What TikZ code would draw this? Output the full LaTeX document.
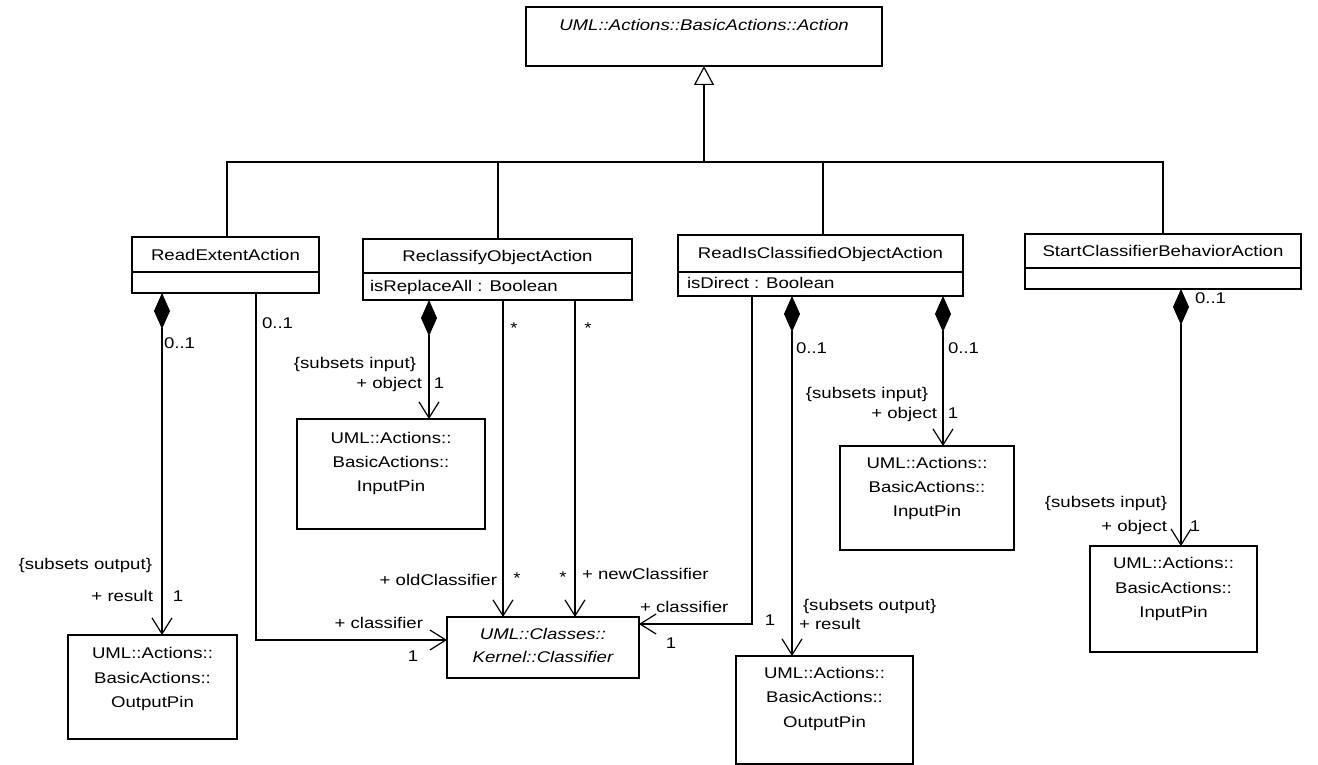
\documentclass[tikz,border=0pt]{standalone}
\usepackage{fontspec}
\setmainfont{Liberation Sans}[FakeStretch=1.2]
\usetikzlibrary{arrows.meta}
\begin{document}
\begin{tikzpicture}[x=1pt,y=-1pt,
  every node/.style={inner sep=0pt,outer sep=0pt,font=\fontsize{15.5}{24}\selectfont},
  box/.style={draw,line width=1.2pt,fill=white,anchor=north west},
  it/.style={font=\fontsize{15.5}{24}\selectfont\itshape},
  ln/.style={line width=1.2pt,line join=miter},
  comp/.style={ln,{Diamond[length=36pt,width=16pt]}-{Straight Barb[length=16pt,width=20pt]}},
  nav/.style={ln,-{Straight Barb[length=16pt,width=20pt]}},
  gen/.style={ln,-{Triangle[open,length=19pt,width=20pt,fill=white]}},
]
\useasboundingbox[fill=white] (0,0) rectangle (1318,765);

% ---------- boxes ----------
\node[box,minimum width=356pt,minimum height=59pt] (action) at (526,7) {};
\node[box,minimum width=187pt,minimum height=56pt] (rea) at (132,237) {};
\node[box,minimum width=269pt,minimum height=61pt] (roa) at (363,239) {};
\node[box,minimum width=285pt,minimum height=61pt] (rico) at (678,235) {};
\node[box,minimum width=276pt,minimum height=55pt] (scba) at (1025,234) {};
\node[box,minimum width=169pt,minimum height=104pt] (op1) at (68,635) {};
\node[box,minimum width=188pt,minimum height=110pt] (ip1) at (297,419) {};
\node[box,minimum width=192pt,minimum height=61pt] (cls) at (447,617) {};
\node[box,minimum width=174pt,minimum height=104pt] (ip2) at (840,446) {};
\node[box,minimum width=177pt,minimum height=108pt] (op2) at (736,656) {};
\node[box,minimum width=167pt,minimum height=106pt] (ip3) at (1090,546) {};

% compartment dividers
\draw[ln] ([yshift=-35pt]rea.north west) -- ([yshift=-35pt]rea.north east);
\draw[ln] ([yshift=-34pt]roa.north west) -- ([yshift=-34pt]roa.north east);
\draw[ln] ([yshift=-37pt]rico.north west) -- ([yshift=-37pt]rico.north east);
\draw[ln] ([yshift=-34pt]scba.north west) -- ([yshift=-34pt]scba.north east);

% ---------- box texts ----------
\node[it,anchor=base] (actionT) at (704,30.5) {UML::Actions::BasicActions::Action};
\node[anchor=base] (reaT) at (225.5,260.5) {ReadExtentAction};
\node[anchor=base] (roaT) at (497.5,261.5) {ReclassifyObjectAction};
\node[anchor=base west] (roaA) at (370,291.5) {isReplaceAll : Boolean};
\node[anchor=base] (ricoT) at (820.5,258.5) {ReadIsClassifiedObjectAction};
\node[anchor=base west] (ricoA) at (687,288.5) {isDirect : Boolean};
\node[anchor=base] (scbaT) at (1163,256.5) {StartClassifierBehaviorAction};

\node[anchor=base] (op1a) at (152.5,658.5) {UML::Actions::};
\node[anchor=base] (op1b) at (152.5,683) {BasicActions::};
\node[anchor=base] (op1c) at (152.5,707.5) {OutputPin};

\node[anchor=base] (ip1a) at (391,443.5) {UML::Actions::};
\node[anchor=base] (ip1b) at (391,467.5) {BasicActions::};
\node[anchor=base] (ip1c) at (391,491.5) {InputPin};

\node[it,anchor=base] (clsa) at (543,639.5) {UML::Classes::};
\node[it,anchor=base] (clsb) at (543,662.5) {Kernel::Classifier};

\node[anchor=base] (ip2a) at (927,468.5) {UML::Actions::};
\node[anchor=base] (ip2b) at (927,492.5) {BasicActions::};
\node[anchor=base] (ip2c) at (927,516.5) {InputPin};

\node[anchor=base] (op2a) at (824.5,678.5) {UML::Actions::};
\node[anchor=base] (op2b) at (824.5,702.5) {BasicActions::};
\node[anchor=base] (op2c) at (824.5,727) {OutputPin};

\node[anchor=base] (ip3a) at (1173.5,568.5) {UML::Actions::};
\node[anchor=base] (ip3b) at (1173.5,593) {BasicActions::};
\node[anchor=base] (ip3c) at (1173.5,617.5) {InputPin};

% ---------- generalization ----------
\coordinate (bus) at (0,162);
\draw[ln] ([xshift=1.5pt]rea.north) -- ([xshift=1.5pt]rea.north |- bus) -- (scba.north |- bus) -- (scba.north);
\draw[ln] ([xshift=0.5pt]roa.north) -- ([xshift=0.5pt]roa.north |- bus);
\draw[ln] ([xshift=2.5pt]rico.north) -- ([xshift=2.5pt]rico.north |- bus);
\draw[gen] (action.south |- bus) -- (action.south);

% ---------- associations ----------
\draw[comp] ([xshift=30pt]rea.south west) -- ([xshift=30pt]rea.south west |- op1.north);
\draw[nav] ([xshift=124pt]rea.south west) |- ([yshift=7.5pt]cls.west);
\draw[comp] ([xshift=66pt]roa.south west) -- ([xshift=66pt]roa.south west |- ip1.north);
\draw[nav] ([xshift=140pt]roa.south west) -- ([xshift=140pt]roa.south west |- cls.north);
\draw[nav] ([xshift=212pt]roa.south west) -- ([xshift=212pt]roa.south west |- cls.north);
\draw[nav] ([xshift=74pt]rico.south west) |- ([yshift=23.5pt]cls.east);
\draw[comp] ([xshift=114pt]rico.south west) -- ([xshift=114pt]rico.south west |- op2.north);
\draw[comp] ([xshift=265pt]rico.south west) -- ([xshift=265pt]rico.south west |- ip2.north);
\draw[comp] ([xshift=156pt]scba.south west) -- ([xshift=156pt]scba.south west |- ip3.north);

% ---------- labels ----------
\node[anchor=base west] (l1) at (164,348.5) {0..1};
\node[anchor=base west] (l2) at (262,328.5) {0..1};
\node[anchor=base east] (l3) at (152,569.5) {\{subsets output\}};
\node[anchor=base east] (l4) at (153,601.5) {+ result};
\node[anchor=base] (l5) at (178,601.5) {1};
\node[anchor=base east] (l6) at (423,628.5) {+ classifier};
\node[anchor=base] (l7) at (413,661.5) {1};
\node[anchor=base east] (l8) at (416,368.5) {\{subsets input\}};
\node[anchor=base east] (l9) at (422,388.5) {+ object};
\node[anchor=base] (l10) at (439,388.5) {1};
\node[anchor=base] (l11) at (514,333) {*};
\node[anchor=base] (l12) at (588,333) {*};
\node[anchor=base east] (l13) at (497,585.5) {+ oldClassifier};
\node[anchor=base] (l14) at (517,583.5) {*};
\node[anchor=base] (l15) at (563,582) {*};
\node[anchor=base west] (l16) at (582,579.5) {+ newClassifier};
\node[anchor=base west] (l17) at (640,612.5) {+ classifier};
\node[anchor=base] (l18) at (671,648.5) {1};
\node[anchor=base west] (l19) at (796,353.5) {0..1};
\node[anchor=base west] (l20) at (948,353.5) {0..1};
\node[anchor=base east] (l21) at (928,398.5) {\{subsets input\}};
\node[anchor=base east] (l22) at (937,418.5) {+ object};
\node[anchor=base] (l23) at (953,418.5) {1};
\node[anchor=base west] (l24) at (803,610.5) {\{subsets output\}};
\node[anchor=base west] (l25) at (799,629.5) {+ result};
\node[anchor=base] (l26) at (770,625.5) {1};
\node[anchor=base west] (l27) at (1195,303) {0..1};
\node[anchor=base east] (l28) at (1167,507.5) {\{subsets input\}};
\node[anchor=base east] (l29) at (1167,531.5) {+ object};
\node[anchor=base] (l30) at (1195,531.5) {1};
\end{tikzpicture}
\end{document}
